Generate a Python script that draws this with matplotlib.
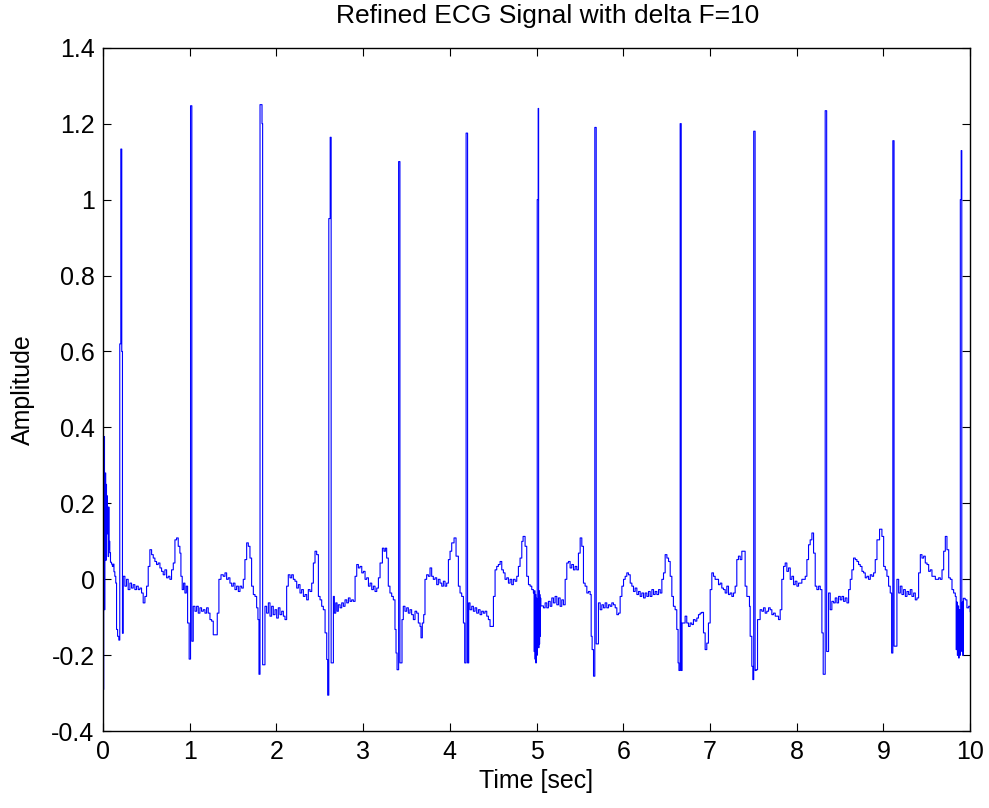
import numpy as np
import matplotlib
matplotlib.use('Agg')
import matplotlib.pyplot as plt

# ECG samples, (time [s], amplitude), one list per beat
seg_start = [(0.000, 0.00), (0.003, 0.78), (0.006, -0.29), (0.010, 0.20), (0.015, 0.376), (0.019, -0.08),
             (0.023, 0.10), (0.028, 0.28), (0.033, 0.05), (0.038, 0.25), (0.042, 0.15), (0.047, 0.22),
             (0.052, 0.12), (0.057, 0.19), (0.061, 0.06), (0.066, 0.19), (0.071, 0.08), (0.076, 0.10),
             (0.080, 0.07), (0.088, 0.045), (0.100, 0.04), (0.110, 0.034), (0.119, 0.04), (0.128, 0.02),
             (0.138, 0.008), (0.149, -0.01), (0.158, -0.132), (0.170, -0.15), (0.184, -0.16), (0.195, 0.62),
             (0.207, 1.133), (0.218, 0.60), (0.226, -0.142)]
seg_b = [(0.235, 0.008), (0.254, -0.018), (0.273, 0.0), (0.292, -0.027), (0.312, -0.01), (0.331, -0.023),
         (0.35, -0.014), (0.369, -0.027), (0.388, -0.018), (0.408, -0.027), (0.427, -0.023), (0.446, -0.036),
         (0.465, -0.062), (0.485, -0.045), (0.504, -0.018), (0.523, 0.034), (0.542, 0.078), (0.562, 0.065),
         (0.581, 0.056), (0.6, 0.047), (0.619, 0.039), (0.638, 0.043), (0.658, 0.03), (0.677, 0.021),
         (0.696, 0.012), (0.715, 0.025), (0.735, 0.004), (0.754, 0.008), (0.773, 0.0), (0.792, 0.025),
         (0.812, 0.043), (0.831, 0.104), (0.85, 0.109), (0.869, 0.087), (0.888, 0.069), (0.9, 0.008),
         (0.915, -0.027), (0.931, -0.01), (0.946, -0.036), (0.962, -0.018), (0.977, -0.115), (0.995, -0.21),
         (1.011, 1.247), (1.026, -0.163)]
seg_c = [(1.042, -0.071), (1.062, -0.084), (1.081, -0.071), (1.1, -0.089), (1.119, -0.075), (1.138, -0.084),
         (1.158, -0.08), (1.177, -0.089), (1.196, -0.075), (1.215, -0.089), (1.235, -0.106), (1.254, -0.11),
         (1.273, -0.146), (1.3, -0.146), (1.319, -0.089), (1.338, 0.0), (1.362, 0.012), (1.388, 0.008),
         (1.408, 0.017), (1.427, 0.0), (1.446, 0.004), (1.465, -0.01), (1.485, -0.018), (1.504, -0.01),
         (1.523, -0.027), (1.542, -0.018), (1.562, -0.032), (1.581, -0.018), (1.6, -0.023), (1.619, 0.0),
         (1.638, 0.052), (1.658, 0.096), (1.677, 0.087), (1.696, 0.056), (1.715, -0.018), (1.735, -0.04),
         (1.754, -0.045), (1.773, -0.075), (1.788, -0.106), (1.8, -0.25), (1.812, 1.25), (1.835, 1.20),
         (1.842, -0.225)]
seg_d = [(1.869, -0.071), (1.888, -0.089), (1.908, -0.062), (1.927, -0.097), (1.946, -0.071), (1.965, -0.093),
         (1.985, -0.08), (2.004, -0.102), (2.023, -0.075), (2.042, -0.093), (2.062, -0.084), (2.081, -0.097),
         (2.1, -0.106), (2.119, -0.018), (2.138, 0.012), (2.158, 0.004), (2.177, 0.012), (2.196, 0.0),
         (2.215, -0.005), (2.235, -0.023), (2.254, -0.014), (2.273, -0.036), (2.292, -0.027), (2.312, -0.045),
         (2.331, -0.04), (2.35, -0.054), (2.369, -0.027), (2.388, -0.032), (2.408, -0.01), (2.427, 0.043),
         (2.446, 0.074), (2.465, 0.065), (2.485, -0.045), (2.504, -0.054), (2.523, -0.071), (2.542, -0.08),
         (2.562, -0.141), (2.581, -0.211), (2.592, -0.305), (2.605, 0.95), (2.621, 1.164), (2.632, -0.22)]
seg_e = [(2.658, -0.045), (2.669, -0.089), (2.685, -0.062), (2.7, -0.084), (2.715, -0.067), (2.735, -0.075),
         (2.754, -0.062), (2.773, -0.071), (2.792, -0.054), (2.812, -0.062), (2.831, -0.049), (2.85, -0.058),
         (2.869, -0.054), (2.888, -0.058), (2.908, 0.008), (2.927, 0.039), (2.946, 0.03), (2.965, 0.034),
         (2.985, 0.017), (3.004, 0.021), (3.023, 0.0), (3.042, 0.004), (3.062, -0.018), (3.081, -0.01),
         (3.1, -0.027), (3.119, -0.018), (3.138, -0.032), (3.158, -0.023), (3.177, 0.004), (3.196, 0.043),
         (3.223, 0.082), (3.241, 0.074), (3.257, 0.082), (3.272, 0.056), (3.291, -0.018), (3.31, -0.036),
         (3.33, -0.045), (3.349, -0.054), (3.368, -0.132), (3.38, -0.194), (3.392, -0.238), (3.41, 1.10),
         (3.425, -0.22)]
seg_f = [(3.449, -0.106), (3.464, -0.071), (3.483, -0.084), (3.503, -0.075), (3.522, -0.089), (3.541, -0.08),
         (3.56, -0.093), (3.58, -0.106), (3.599, -0.084), (3.618, -0.089), (3.637, -0.115), (3.657, -0.124),
         (3.668, -0.154), (3.683, -0.115), (3.699, -0.093), (3.714, 0.0), (3.733, 0.012), (3.753, 0.008),
         (3.772, 0.03), (3.791, 0.008), (3.81, 0.0), (3.83, 0.004), (3.849, -0.014), (3.868, 0.0),
         (3.887, -0.01), (3.907, -0.018), (3.926, -0.005), (3.945, -0.018), (3.964, -0.01), (3.984, 0.052),
         (4.003, 0.074), (4.022, 0.096), (4.049, 0.109), (4.072, 0.061), (4.099, -0.018), (4.118, -0.036),
         (4.137, -0.045), (4.157, -0.115), (4.172, -0.22), (4.188, 1.175), (4.205, -0.22)]
seg_g = [(4.218, -0.062), (4.233, -0.08), (4.253, -0.071), (4.272, -0.084), (4.291, -0.075), (4.31, -0.089),
         (4.33, -0.08), (4.349, -0.093), (4.368, -0.084), (4.387, -0.089), (4.406, -0.084), (4.426, -0.097),
         (4.445, -0.106), (4.464, -0.124), (4.483, -0.124), (4.503, -0.045), (4.522, 0.025), (4.541, 0.034),
         (4.56, 0.039), (4.58, 0.047), (4.599, 0.025), (4.618, 0.017), (4.637, 0.0), (4.657, 0.004),
         (4.676, -0.01), (4.695, 0.0), (4.714, -0.014), (4.733, 0.0), (4.753, -0.005), (4.772, 0.008),
         (4.791, 0.034), (4.81, 0.056), (4.83, 0.1), (4.845, 0.113), (4.868, 0.087), (4.887, 0.008),
         (4.907, -0.014), (4.926, -0.018), (4.945, -0.027), (4.964, -0.036), (4.972, -0.19), (4.977, -0.03),
         (4.982, -0.21), (4.987, -0.04), (4.992, -0.22), (4.997, -0.05), (5.002, -0.2), (5.008, 1.0),
         (5.019, 1.24), (5.024, -0.18), (5.028, -0.03), (5.032, -0.17), (5.036, -0.04), (5.04, -0.15),
         (5.044, -0.05), (5.05, -0.07)]
seg_h = [(5.08, -0.075), (5.099, -0.062), (5.118, -0.075), (5.137, -0.058), (5.157, -0.071), (5.176, -0.049),
         (5.195, -0.062), (5.214, -0.045), (5.234, -0.067), (5.253, -0.049), (5.272, -0.071), (5.291, -0.054),
         (5.31, -0.067), (5.33, 0.0), (5.349, 0.043), (5.368, 0.047), (5.387, 0.03), (5.406, 0.039),
         (5.426, 0.025), (5.445, 0.034), (5.464, 0.025), (5.483, 0.069), (5.503, 0.109), (5.522, 0.087),
         (5.541, -0.01), (5.56, -0.018), (5.58, -0.036), (5.599, -0.032), (5.618, -0.04), (5.63, -0.15),
         (5.641, -0.185), (5.657, -0.255), (5.672, 1.19), (5.688, -0.17)]
seg_i = [(5.714, -0.062), (5.734, -0.08), (5.753, -0.067), (5.772, -0.075), (5.791, -0.062), (5.81, -0.075),
         (5.83, -0.067), (5.849, -0.071), (5.868, -0.062), (5.887, -0.067), (5.907, -0.075), (5.926, -0.093),
         (5.945, -0.089), (5.964, -0.045), (5.984, -0.018), (6.003, 0.0), (6.022, 0.008), (6.041, 0.017),
         (6.06, 0.012), (6.08, -0.01), (6.099, -0.018), (6.118, -0.032), (6.137, -0.023), (6.157, -0.04),
         (6.176, -0.032), (6.195, -0.045), (6.214, -0.036), (6.234, -0.049), (6.253, -0.036), (6.272, -0.045),
         (6.291, -0.032), (6.31, -0.045), (6.33, -0.027), (6.349, -0.04), (6.368, -0.032), (6.387, -0.04),
         (6.407, -0.027), (6.426, -0.036), (6.445, 0.0), (6.464, 0.017), (6.483, 0.065), (6.503, 0.056),
         (6.522, 0.047), (6.541, 0.008), (6.56, -0.045), (6.578, -0.071), (6.598, -0.08), (6.617, -0.132),
         (6.632, -0.22), (6.642, -0.24), (6.656, 1.20), (6.668, -0.24), (6.678, -0.115)]
seg_j = [(6.713, -0.097), (6.732, -0.115), (6.752, -0.124), (6.771, -0.115), (6.79, -0.119), (6.809, -0.106),
         (6.828, -0.11), (6.848, -0.102), (6.867, -0.093), (6.886, -0.089), (6.905, -0.087), (6.925, -0.141),
         (6.944, -0.185), (6.963, -0.168), (6.982, -0.115), (7.002, -0.027), (7.021, 0.017), (7.04, 0.008),
         (7.059, 0.0), (7.078, 0.0), (7.098, -0.014), (7.117, -0.01), (7.136, -0.023), (7.155, -0.027),
         (7.175, -0.036), (7.194, -0.018), (7.213, -0.04), (7.232, -0.036), (7.252, -0.045), (7.271, -0.036),
         (7.29, -0.018), (7.309, 0.052), (7.328, 0.061), (7.348, 0.052), (7.367, 0.074), (7.386, 0.074),
         (7.405, -0.018), (7.425, -0.045), (7.444, -0.045), (7.455, -0.071), (7.463, -0.15), (7.482, -0.229),
         (7.494, -0.264), (7.504, 1.18), (7.52, -0.24), (7.532, -0.238)]
seg_k = [(7.548, -0.106), (7.578, -0.08), (7.598, -0.084), (7.617, -0.075), (7.636, -0.089), (7.655, -0.084),
         (7.675, -0.075), (7.694, -0.08), (7.713, -0.093), (7.732, -0.089), (7.752, -0.097), (7.771, -0.097),
         (7.79, -0.106), (7.809, -0.08), (7.828, 0.0), (7.848, 0.034), (7.867, 0.043), (7.886, 0.021),
         (7.905, 0.03), (7.925, 0.0), (7.944, 0.008), (7.963, -0.014), (7.982, -0.005), (8.002, -0.018),
         (8.021, -0.01), (8.04, -0.01), (8.059, 0.0), (8.078, 0.0), (8.098, 0.008), (8.117, 0.052),
         (8.136, 0.091), (8.155, 0.104), (8.175, 0.122), (8.194, 0.069), (8.213, -0.018), (8.232, -0.027),
         (8.252, -0.018), (8.271, -0.027), (8.29, -0.141), (8.305, -0.25), (8.328, 1.234), (8.345, -0.19)]
seg_l = [(8.367, -0.036), (8.386, -0.08), (8.405, -0.058), (8.425, -0.062), (8.444, -0.049), (8.463, -0.062),
         (8.482, -0.045), (8.502, -0.054), (8.521, -0.045), (8.54, -0.058), (8.559, -0.049), (8.579, -0.062),
         (8.598, -0.027), (8.617, 0.0), (8.636, 0.025), (8.655, 0.056), (8.675, 0.052), (8.694, 0.047),
         (8.713, 0.039), (8.732, 0.034), (8.752, 0.021), (8.771, 0.017), (8.79, 0.004), (8.809, 0.008),
         (8.828, 0.0), (8.848, 0.012), (8.867, 0.008), (8.886, 0.017), (8.905, 0.052), (8.925, 0.104),
         (8.955, 0.132), (8.982, 0.113), (9.002, 0.034), (9.021, 0.025), (9.04, 0.008), (9.059, -0.018),
         (9.078, -0.036), (9.094, -0.194), (9.108, 1.155), (9.122, -0.176)]
seg_m = [(9.155, 0.0), (9.175, -0.036), (9.194, -0.018), (9.213, -0.04), (9.232, -0.027), (9.252, -0.045),
         (9.271, -0.032), (9.29, -0.04), (9.309, -0.027), (9.328, -0.045), (9.348, -0.036), (9.367, -0.054),
         (9.386, -0.049), (9.405, 0.017), (9.425, 0.065), (9.444, 0.056), (9.463, 0.061), (9.482, 0.043),
         (9.502, 0.039), (9.521, 0.021), (9.54, 0.025), (9.559, 0.008), (9.578, 0.008), (9.598, 0.0),
         (9.617, 0.0), (9.636, 0.004), (9.655, 0.0), (9.675, 0.025), (9.694, 0.074), (9.713, 0.113),
         (9.732, 0.078), (9.752, 0.004), (9.771, 0.0), (9.79, -0.027), (9.809, -0.036), (9.828, -0.045),
         (9.838, -0.185), (9.845, -0.06), (9.852, -0.2), (9.859, -0.07), (9.866, -0.207), (9.873, -0.08),
         (9.88, -0.2), (9.886, 1.0), (9.896, 1.129), (9.903, -0.19), (9.909, -0.06), (9.915, -0.2),
         (9.921, -0.05), (9.942, -0.054), (9.962, -0.075), (9.982, -0.071), (10.0, -0.085)]

x_ticks = [0, 1, 2, 3, 4, 5, 6, 7, 8, 9, 10]
y_ticks = [-0.4, -0.2, 0, 0.2, 0.4, 0.6, 0.8, 1.0, 1.2, 1.4]
y_tick_labels = ['-0.4', '-0.2', '0', '0.2', '0.4', '0.6', '0.8', '1', '1.2', '1.4']

segments = [seg_start, seg_b, seg_c, seg_d, seg_e, seg_f, seg_g, seg_h, seg_i, seg_j, seg_k, seg_l, seg_m]
samples = np.array([p for seg in segments for p in seg])
t = samples[:, 0]
amp = samples[:, 1]

plt.rcParams['font.family'] = ['Liberation Sans', 'DejaVu Sans']

fig = plt.figure(figsize=(9.89, 8.08), dpi=100)
ax = fig.add_axes([0.104, 0.095, 0.877, 0.846])
# quantised signal -> staircase look
ax.plot(t, amp, color='blue', linewidth=0.8, drawstyle='steps-post')

ax.set_xlim(0, 10)
ax.set_ylim(-0.4, 1.4)
ax.set_xticks(x_ticks)
ax.set_xticklabels([str(v) for v in x_ticks])
ax.set_yticks(y_ticks)
ax.set_yticklabels(y_tick_labels)
ax.tick_params(direction='in', top=True, right=True, length=6, width=0.8, labelsize=18, pad=6)
for s in ax.spines.values():
    s.set_linewidth(1.0)

ax.set_title('Refined ECG Signal with delta F=10', fontsize=19, pad=18, x=0.513)
ax.set_xlabel('Time [sec]', fontsize=18, labelpad=4)
ax.set_ylabel('Amplitude', fontsize=18, labelpad=12)

fig.savefig('out.png', dpi=100)
